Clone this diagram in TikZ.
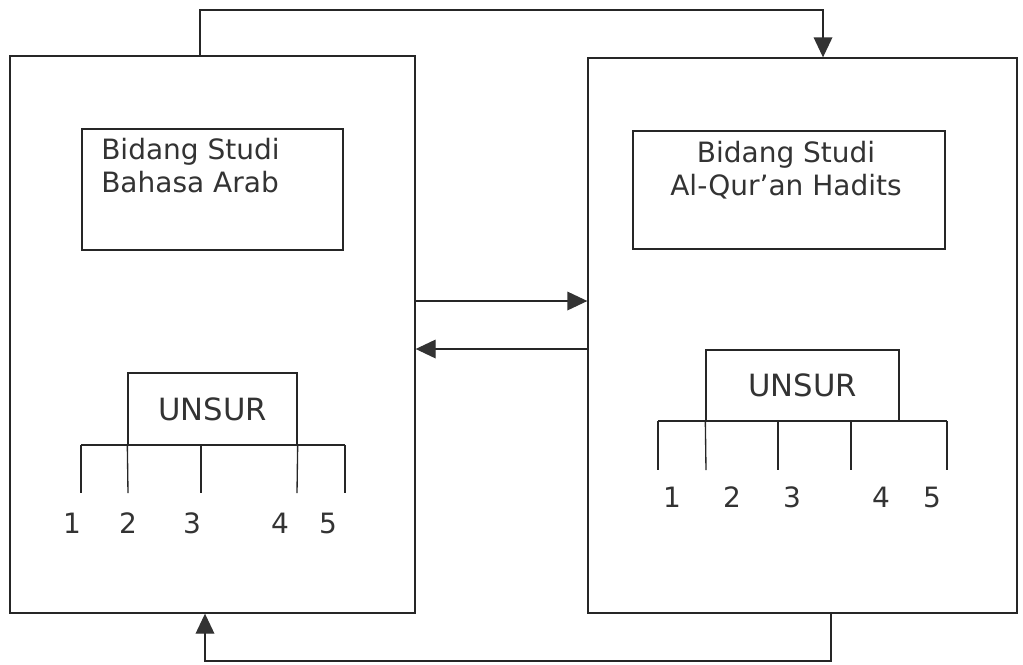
\documentclass[tikz,border=0pt]{standalone}
\usepackage{fontspec}
\setmainfont{DejaVu Sans}
\usetikzlibrary{arrows.meta}
\usetikzlibrary{fit}

\tikzset{
  line/.style={draw=black!85, line width=1pt},
  box/.style={line, inner sep=0pt},
  flow/.style={line, -{Triangle[length=15pt,width=14pt,color=black!80,fill=black!80]}},
  txt/.style={inner sep=0pt, text=black!80, font=\fontsize{21pt}{24.75pt}\selectfont},
  unsur/.style={box, txt, font=\fontsize{23pt}{27pt}\selectfont},
}

\begin{document}
\begin{tikzpicture}[x=0.75pt,y=0.75pt,yscale=-1,xscale=1]
    \useasboundingbox (0,0) rectangle (1023,664);

    % Main boxes
    \node [box, fit={(10,56) (415,613)}] (arab) {};
    \node [box, fit={(588,58) (1017,613)}] (quran) {};

    % Title boxes
    \node [box, fit={(82,129) (343,250)}] (titleArab) {};
    \node [txt, anchor=north west, align=left] (txtArab) at (101,138) {Bidang Studi\\Bahasa Arab};
    \node [box, fit={(633,131) (945,249)}] (titleQuran) {};
    \node [txt, anchor=north, align=center] (txtQuran) at (786,141) {Bidang Studi\\Al-Qur’an Hadits};

    % UNSUR, left
    \node [unsur, minimum width=126.75pt, minimum height=54pt] (unsurArab) at (212.5,409) {UNSUR};
    \coordinate (barArabL) at (81,445);
    \coordinate (barArabR) at (345,445);
    \draw [line] (barArabL) -- (barArabR);
    \coordinate (a1) at (81,493);
    \coordinate (a2) at (128,493);
    \coordinate (a3) at (201,493);
    \coordinate (a4) at (297,493);
    \coordinate (a5) at (345,493);
    \draw [line] (a1 |- barArabL) -- (a1);
    \draw [line] (unsurArab.south west) -- (a2);
    \draw [line] (a3 |- barArabL) -- (a3);
    \draw [line] (unsurArab.south east) -- (a4);
    \draw [line] (a5 |- barArabL) -- (a5);
    \node [txt] (na1) at (72,523) {1};
    \node [txt] (na2) at (128,523) {2};
    \node [txt] (na3) at (192,523) {3};
    \node [txt] (na4) at (280,523) {4};
    \node [txt] (na5) at (328,523) {5};

    % UNSUR, right
    \node [unsur, minimum width=144.75pt, minimum height=53.25pt] (unsurQuran) at (802.5,385.5) {UNSUR};
    \coordinate (barQuranL) at (658,421);
    \coordinate (barQuranR) at (947,421);
    \draw [line] (barQuranL) -- (barQuranR);
    \coordinate (q1) at (658,470);
    \coordinate (q2) at (706,470);
    \coordinate (q3) at (778,470);
    \coordinate (q4) at (851,470);
    \coordinate (q5) at (947,470);
    \draw [line] (q1 |- barQuranL) -- (q1);
    \draw [line] (unsurQuran.south west) -- (q2);
    \draw [line] (q3 |- barQuranL) -- (q3);
    \draw [line] (q4 |- barQuranL) -- (q4);
    \draw [line] (q5 |- barQuranL) -- (q5);
    \node [txt] (nq1) at (672,497) {1};
    \node [txt] (nq2) at (732,497) {2};
    \node [txt] (nq3) at (792,497) {3};
    \node [txt] (nq4) at (881,497) {4};
    \node [txt] (nq5) at (932,497) {5};

    % Arrows between boxes
    \coordinate (rowA) at (0,301);
    \coordinate (rowB) at (0,349);
    \draw [flow] (arab.east |- rowA) -- (quran.west |- rowA);
    \draw [flow] (quran.west |- rowB) -- (arab.east |- rowB);

    \coordinate (topA) at (200,10);
    \coordinate (topB) at (823,10);
    \draw [flow] (arab.north -| topA) -- (topA) -- (topB) -- (quran.north -| topB);

    \coordinate (botA) at (831,661);
    \coordinate (botB) at (205,661);
    \draw [flow] (quran.south -| botA) -- (botA) -- (botB) -- (arab.south -| botB);

\end{tikzpicture}
\end{document}
